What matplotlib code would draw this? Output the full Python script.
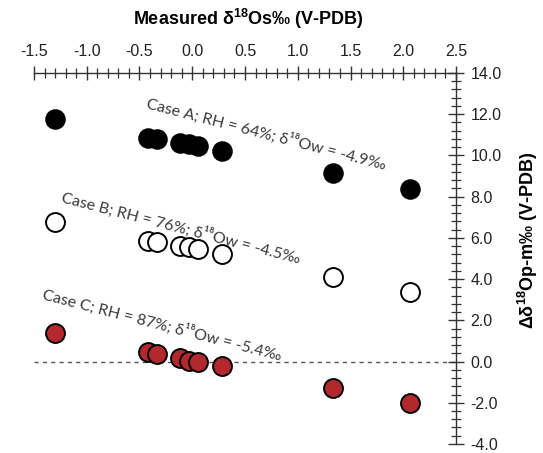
import numpy as np
import matplotlib
matplotlib.use("Agg")
import matplotlib.pyplot as plt
from matplotlib.ticker import MultipleLocator, FormatStrFormatter

plt.rcParams["mathtext.fontset"] = "custom"
plt.rcParams["mathtext.rm"] = "Liberation Sans"
plt.rcParams["mathtext.bf"] = "Liberation Sans:bold"

# measured d18Os (V-PDB), same samples for the three cases
x_vals = [-1.30, -0.42, -0.33, -0.12, -0.03, 0.05, 0.28, 1.33, 2.06]

# delta d18O p-m for each case
case_a = [11.75, 10.85, 10.78, 10.62, 10.55, 10.48, 10.22, 9.13, 8.36]
case_b = [6.75, 5.86, 5.80, 5.62, 5.55, 5.48, 5.22, 4.09, 3.37]
case_c = [1.40, 0.48, 0.36, 0.15, 0.05, -0.02, -0.22, -1.30, -2.03]

case_labels = [
    "Case A; RH = 64%; δ¹⁸Ow = -4.9‰",
    "Case B; RH = 76%; δ¹⁸Ow = -4.5‰",
    "Case C; RH = 87%; δ¹⁸Ow = -5.4‰",
]
label_pos = [(-0.44, 12.3), (-1.25, 7.73), (-1.43, 3.04)]

bold_font = ["Liberation Sans", "DejaVu Sans"]
note_font = ["Lato", "DejaVu Sans"]

fig = plt.figure(figsize=(5.43, 4.53), dpi=100)
ax = fig.add_axes([0.0626, 0.0199, 0.7772, 0.8190])

# zero line
ax.axhline(0, color="#555555", lw=1.0, ls=(0, (3, 3)), zorder=1)

ax.scatter(x_vals, case_a, s=185, color="black", edgecolors="black", lw=1.2, zorder=3)
ax.scatter(x_vals, case_b, s=185, color="white", edgecolors="black", lw=1.4, zorder=3)
ax.scatter(x_vals, case_c, s=185, color="#b3282d", edgecolors="black", lw=1.4, zorder=3)

for txt, (tx, ty) in zip(case_labels, label_pos):
    ax.text(tx, ty, txt, rotation=-14.5, rotation_mode="anchor", ha="left", va="baseline",
            fontsize=11.5, color="#3a3a3a", family=note_font, zorder=4)

ax.set_xlim(-1.5, 2.5)
ax.set_ylim(-4.0, 14.0)

for s in ["left", "bottom"]:
    ax.spines[s].set_visible(False)
for s in ["top", "right"]:
    ax.spines[s].set_color("#333333")
    ax.spines[s].set_linewidth(1.0)

ax.xaxis.tick_top()
ax.yaxis.tick_right()
ax.xaxis.set_major_locator(MultipleLocator(0.5))
ax.xaxis.set_minor_locator(MultipleLocator(0.1))
ax.yaxis.set_major_locator(MultipleLocator(2.0))
ax.yaxis.set_minor_locator(MultipleLocator(0.4))
ax.xaxis.set_major_formatter(FormatStrFormatter("%.1f"))
ax.yaxis.set_major_formatter(FormatStrFormatter("%.1f"))

ax.tick_params(axis="x", which="major", direction="inout", length=10, width=1.0,
               pad=5, labelsize=11.5, color="#333333", labelcolor="#222222")
ax.tick_params(axis="x", which="minor", direction="inout", length=7, width=0.9, color="#333333")
ax.tick_params(axis="y", which="major", direction="inout", length=11, width=1.0,
               pad=5, labelsize=11.5, color="#333333", labelcolor="#222222")
ax.tick_params(axis="y", which="minor", direction="inout", length=7, width=0.9, color="#333333")
for lab in ax.get_xticklabels() + ax.get_yticklabels():
    lab.set_family(bold_font)

ax.set_xlabel(r"Measured δ$^{\mathbf{18}}$Os‰ (V-PDB)", fontsize=13, fontweight="bold",
              family=bold_font)
ax.xaxis.set_label_position("top")
ax.xaxis.set_label_coords(0.507, 1.13)

ax.set_ylabel(r"Δδ$^{\mathbf{18}}$Op-m‰ (V-PDB)", fontsize=13, fontweight="bold",
              family=bold_font)
ax.yaxis.set_label_position("right")
ax.yaxis.set_label_coords(1.142, 0.55)

fig.savefig("out.png", dpi=100)
